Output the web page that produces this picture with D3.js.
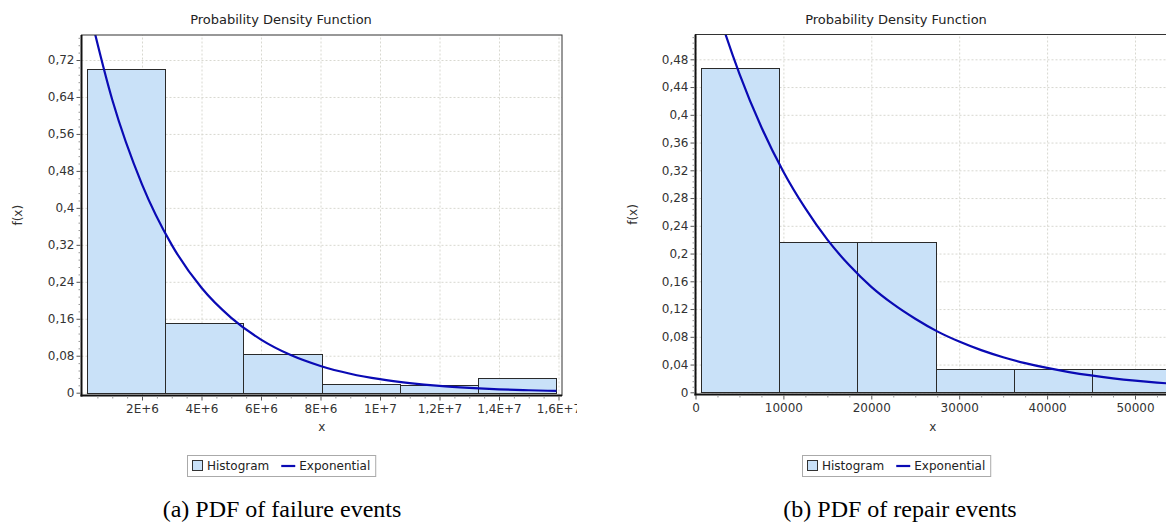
<!DOCTYPE html>
<html><head><meta charset="utf-8">
<script src="https://cdn.jsdelivr.net/npm/d3@7"></script>
<style>body{margin:0;background:#fff}svg{display:block}</style>
</head><body>
<svg id="c" width="1166" height="529"></svg>
<script>
// ---------- DATA ----------
const failureBinEdges = [0.15e6, 2.78e6, 5.41e6, 8.04e6, 10.67e6, 13.30e6, 15.93e6];
const failureHistogram = [0.701, 0.150, 0.084, 0.018, 0.017, 0.032];
const failureCurveX = [0.12e6, 1e6, 2e6, 3e6, 4e6, 5e6, 6e6, 7e6, 8e6, 9e6, 10e6, 11e6, 12e6, 13e6, 14e6, 15e6, 15.93e6];
const failureCurveY = [0.857, 0.634, 0.451, 0.320, 0.227, 0.162, 0.115, 0.0815, 0.0579, 0.0411, 0.0292, 0.0208, 0.0147, 0.0105, 0.0074, 0.0053, 0.0038];
const failureXTicks = [2e6, 4e6, 6e6, 8e6, 10e6, 12e6, 14e6, 16e6];
const failureXTickLabels = ["2E+6", "4E+6", "6E+6", "8E+6", "1E+7", "1,2E+7", "1,4E+7", "1,6E+7"];
const failureYTicks = [0, 0.08, 0.16, 0.24, 0.32, 0.40, 0.48, 0.56, 0.64, 0.72];
const failureYTickLabels = ["0", "0,08", "0,16", "0,24", "0,32", "0,4", "0,48", "0,56", "0,64", "0,72"];

const repairBinEdges = [590, 9500, 18410, 27320, 36230, 45140, 54050];
const repairHistogram = [0.467, 0.217, 0.217, 0.034, 0.034, 0.034];
const repairCurveX = [590, 2500, 5000, 7500, 10000, 12500, 15000, 17500, 20000, 22500, 25000, 27500, 30000, 32500, 35000, 37500, 40000, 42500, 45000, 47500, 50000, 52500, 55000];
const repairCurveY = [0.635, 0.552, 0.459, 0.382, 0.318, 0.265, 0.220, 0.183, 0.152, 0.127, 0.106, 0.0878, 0.0731, 0.0608, 0.0506, 0.0421, 0.0351, 0.0292, 0.0243, 0.0202, 0.0168, 0.0140, 0.0116];
const repairXTicks = [0, 10000, 20000, 30000, 40000, 50000];
const repairXTickLabels = ["0", "10000", "20000", "30000", "40000", "50000"];
const repairYTicks = [0, 0.04, 0.08, 0.12, 0.16, 0.20, 0.24, 0.28, 0.32, 0.36, 0.40, 0.44, 0.48];
const repairYTickLabels = ["0", "0,04", "0,08", "0,12", "0,16", "0,2", "0,24", "0,28", "0,32", "0,36", "0,4", "0,44", "0,48"];

const chartTitle = "Probability Density Function";
const xLabel = "x", yLabel = "f(x)";
const legendLabels = ["Histogram", "Exponential"];
const captions = ["(a) PDF of failure events", "(b) PDF of repair events"];

// ---------- DRAW ----------
const H = 529;
const svg = d3.select("#c");
const defs = svg.append("defs");
const SANS = "'DejaVu Sans', Verdana, sans-serif";
const SERIF = "'Liberation Serif', 'Times New Roman', serif";
const BAR_FILL = "#c9e1f8", BAR_STROKE = "#2a2a2a", CURVE = "#0a0ab4", GRID = "#d8d8d0";

function drawChart(cfg) {
  defs.append("clipPath").attr("id", cfg.id + "-img").append("rect")
    .attr("x", cfg.imgX0).attr("y", 0).attr("width", cfg.imgX1 - cfg.imgX0).attr("height", H);
  const f = cfg.frame;
  defs.append("clipPath").attr("id", cfg.id + "-plot").append("rect")
    .attr("x", f.l).attr("y", f.t).attr("width", f.r - f.l).attr("height", f.b - f.t);

  const root = svg.append("g").attr("clip-path", `url(#${cfg.id}-img)`);
  const x = d3.scaleLinear().domain(cfg.xDomain).range(cfg.xRange);
  const y = d3.scaleLinear().domain(cfg.yDomain).range(cfg.yRange);

  const plot = root.append("g").attr("clip-path", `url(#${cfg.id}-plot)`);
  // grid lines
  const gx = plot.append("g").attr("transform", `translate(0,${f.b})`)
    .call(d3.axisBottom(x).tickValues(cfg.xTicks).tickSize(-(f.b - f.t)).tickFormat(""));
  const gy = plot.append("g").attr("transform", `translate(${f.l},0)`)
    .call(d3.axisLeft(y).tickValues(cfg.yTicks).tickSize(-(f.r - f.l)).tickFormat(""));
  [gx, gy].forEach(g => {
    g.select(".domain").remove();
    g.selectAll("line").attr("stroke", GRID).attr("stroke-dasharray", "2,2");
  });

  // histogram bars
  const bins = cfg.values.map((v, i) => ({x0: cfg.edges[i], x1: cfg.edges[i + 1], v}));
  plot.append("g").selectAll("rect").data(bins).join("rect")
    .attr("x", d => Math.round(x(d.x0)) + 0.5)
    .attr("y", d => Math.round(y(d.v)) + 0.5)
    .attr("width", d => Math.round(x(d.x1)) - Math.round(x(d.x0)))
    .attr("height", d => Math.round(y(0)) - Math.round(y(d.v)))
    .attr("fill", BAR_FILL).attr("stroke", BAR_STROKE).attr("stroke-width", 1);

  // exponential curve
  const pts = cfg.curveX.map((cx, i) => [cx, cfg.curveY[i]]);
  plot.append("path").datum(pts)
    .attr("d", d3.line().x(d => x(d[0])).y(d => y(d[1])).curve(d3.curveMonotoneX))
    .attr("fill", "none").attr("stroke", CURVE).attr("stroke-width", 2.2);

  // frame
  root.append("rect").attr("x", f.l).attr("y", f.t).attr("width", f.r - f.l).attr("height", f.b - f.t)
    .attr("fill", "none").attr("stroke", "#333").attr("stroke-width", 1);
  // axis lines
  root.append("line").attr("x1", f.l).attr("x2", f.l).attr("y1", f.t).attr("y2", f.b + 1)
    .attr("stroke", "#111").attr("stroke-width", 2);
  root.append("line").attr("x1", f.l - 1).attr("x2", f.r).attr("y1", f.b).attr("y2", f.b)
    .attr("stroke", "#111").attr("stroke-width", 2);

  // minor ticks
  const mg1 = root.append("g").attr("transform", `translate(${f.l - 1},0)`)
    .call(d3.axisLeft(y).tickValues(cfg.yMinor).tickSize(2).tickFormat(""));
  const mg2 = root.append("g").attr("transform", `translate(0,${f.b + 1})`)
    .call(d3.axisBottom(x).tickValues(cfg.xMinor).tickSize(2).tickFormat(""));
  [mg1, mg2].forEach(g => { g.select(".domain").remove(); g.selectAll("line").attr("stroke", "#999"); });

  // major axes
  const ay = root.append("g").attr("transform", `translate(${f.l - 1},0)`)
    .call(d3.axisLeft(y).tickValues(cfg.yTicks).tickSize(4).tickPadding(2)
      .tickFormat((d, i) => cfg.yLabels[i]));
  const ax = root.append("g").attr("transform", `translate(0,${f.b + 1})`)
    .call(d3.axisBottom(x).tickValues(cfg.xTicks).tickSize(4).tickPadding(4)
      .tickFormat((d, i) => cfg.xLabels[i]));
  [ax, ay].forEach(g => {
    g.select(".domain").remove();
    g.selectAll("line").attr("stroke", "#555");
    g.selectAll("text").attr("fill", "#333").style("font-family", SANS).style("font-size", "12px");
  });

  // title & axis labels
  root.append("text").attr("x", cfg.cx).attr("y", 24).attr("text-anchor", "middle")
    .style("font-family", SANS).style("font-size", "13px").attr("fill", "#222").text(chartTitle);
  root.append("text").attr("x", (f.l + f.r) / 2).attr("y", 431).attr("text-anchor", "middle")
    .style("font-family", SANS).style("font-size", "12px").attr("fill", "#333").text(xLabel);
  root.append("text").attr("transform", `translate(${cfg.yLabelX},${(f.t + f.b) / 2}) rotate(-90)`)
    .attr("text-anchor", "middle").attr("dy", "0.35em")
    .style("font-family", SANS).style("font-size", "12px").attr("fill", "#333").text(yLabel);

  // legend
  const lg = root.append("g");
  lg.append("rect").attr("x", 0.5).attr("y", -5.5).attr("width", 10).attr("height", 10)
    .attr("fill", BAR_FILL).attr("stroke", "#333");
  const t1 = lg.append("text").attr("x", 15).attr("y", 0).attr("dy", "0.35em")
    .style("font-family", SANS).style("font-size", "12px").attr("fill", "#222").text(legendLabels[0]);
  const w1 = t1.node().getComputedTextLength();
  const lx = 15 + w1 + 12;
  lg.append("line").attr("x1", lx).attr("x2", lx + 14).attr("y1", 0).attr("y2", 0)
    .attr("stroke", CURVE).attr("stroke-width", 2.2);
  const t2 = lg.append("text").attr("x", lx + 18).attr("y", 0).attr("dy", "0.35em")
    .style("font-family", SANS).style("font-size", "12px").attr("fill", "#222").text(legendLabels[1]);
  const w2 = t2.node().getComputedTextLength();
  const totalW = lx + 18 + w2;
  const pad = 5;
  lg.insert("rect", ":first-child").attr("x", -pad + 0.5).attr("y", -10.5).attr("width", totalW + 2 * pad).attr("height", 21)
    .attr("fill", "#fff").attr("stroke", "#aaa");
  lg.attr("transform", `translate(${Math.round(cfg.cx - totalW / 2)},466)`);

  // caption
  svg.append("text").attr("x", cfg.capX).attr("y", 517).attr("text-anchor", "middle")
    .style("font-family", SERIF).style("font-size", "24px").attr("fill", "#000").text(cfg.caption);
}

function minorTicks(ticks, n, lo, hi) {
  const out = [];
  const step = ticks[1] - ticks[0];
  for (let t = ticks[0] - step; t <= ticks[ticks.length - 1] + step; t += step) {
    for (let k = 1; k < n; k++) {
      const v = t + step * k / n;
      if (v > lo && v < hi) out.push(v);
    }
  }
  return out;
}

drawChart({
  id: "a", imgX0: 0, imgX1: 577,
  frame: {l: 81.5, t: 35, r: 562, b: 395.5},
  xDomain: [0, 16e6], xRange: [82.5, 558.5],
  yDomain: [0, 0.72], yRange: [392.7, 60],
  edges: failureBinEdges, values: failureHistogram,
  curveX: failureCurveX, curveY: failureCurveY,
  xTicks: failureXTicks, xLabels: failureXTickLabels,
  yTicks: failureYTicks, yLabels: failureYTickLabels,
  xMinor: minorTicks(failureXTicks, 4, 0.15e6, 16.1e6),
  yMinor: minorTicks(failureYTicks, 5, 0.001, 0.77),
  cx: 281, yLabelX: 18, capX: 282, caption: captions[0]
});
drawChart({
  id: "b", imgX0: 600, imgX1: 1166,
  frame: {l: 695.5, t: 34.5, r: 1170, b: 394.5},
  xDomain: [0, 50000], xRange: [695.5, 1135],
  yDomain: [0, 0.48], yRange: [392.3, 59.3],
  edges: repairBinEdges, values: repairHistogram,
  curveX: repairCurveX, curveY: repairCurveY,
  xTicks: repairXTicks, xLabels: repairXTickLabels,
  yTicks: repairYTicks, yLabels: repairYTickLabels,
  xMinor: minorTicks(repairXTicks, 4, 100, 54000),
  yMinor: minorTicks(repairYTicks, 5, 0.001, 0.52),
  cx: 896, yLabelX: 633, capX: 900, caption: captions[1]
});
</script>
</body></html>
